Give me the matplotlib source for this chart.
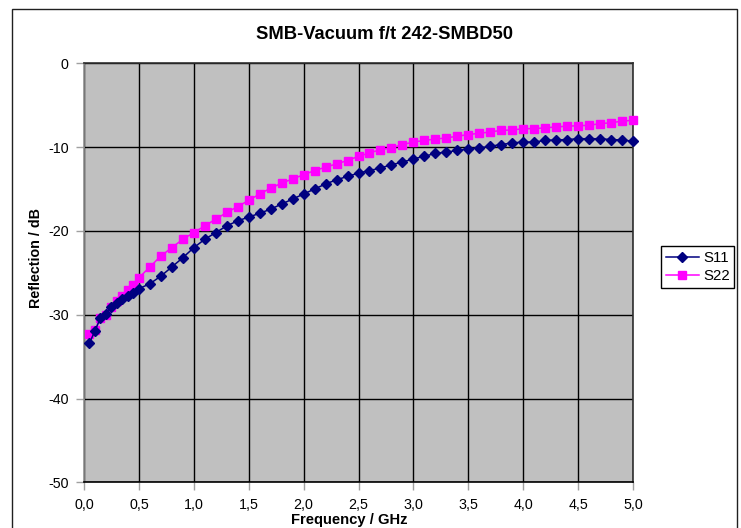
import matplotlib
matplotlib.use("Agg")
import matplotlib.pyplot as plt
from matplotlib.patches import Rectangle

plt.rcParams['font.family'] = ['Liberation Sans', 'DejaVu Sans']
plt.rcParams['axes.unicode_minus'] = False

freq = [0.05, 0.10, 0.15, 0.20, 0.25, 0.30, 0.35, 0.40, 0.45, 0.50,
        0.6, 0.7, 0.8, 0.9, 1.0, 1.1, 1.2, 1.3, 1.4, 1.5,
        1.6, 1.7, 1.8, 1.9, 2.0, 2.1, 2.2, 2.3, 2.4, 2.5,
        2.6, 2.7, 2.8, 2.9, 3.0, 3.1, 3.2, 3.3, 3.4, 3.5,
        3.6, 3.7, 3.8, 3.9, 4.0, 4.1, 4.2, 4.3, 4.4, 4.5,
        4.6, 4.7, 4.8, 4.9, 5.0]

s11 = [-33.4, -31.9, -30.4, -29.9, -29.1, -28.6, -28.1, -27.8, -27.4, -26.9,
       -26.3, -25.4, -24.3, -23.2, -22.0, -21.0, -20.2, -19.4, -18.8, -18.35,
       -17.9, -17.4, -16.8, -16.2, -15.6, -15.0, -14.4, -13.9, -13.5, -13.1,
       -12.8, -12.5, -12.1, -11.8, -11.4, -11.1, -10.75, -10.6, -10.4, -10.2,
       -10.1, -9.9, -9.7, -9.5, -9.4, -9.4, -9.2, -9.15, -9.1, -9.0,
       -9.0, -9.0, -9.1, -9.15, -9.3]

s22 = [-32.3, -31.8, -30.4, -30.0, -29.1, -28.4, -27.8, -27.1, -26.4, -25.6,
       -24.3, -23.0, -22.0, -21.0, -20.2, -19.4, -18.6, -17.8, -17.1, -16.35,
       -15.6, -14.9, -14.3, -13.8, -13.3, -12.8, -12.4, -12.0, -11.6, -11.1,
       -10.7, -10.3, -10.1, -9.7, -9.4, -9.2, -9.05, -8.9, -8.7, -8.5,
       -8.35, -8.2, -8.0, -7.96, -7.8, -7.8, -7.7, -7.6, -7.5, -7.45,
       -7.4, -7.2, -7.1, -6.9, -6.8]

xticks = [0.0, 0.5, 1.0, 1.5, 2.0, 2.5, 3.0, 3.5, 4.0, 4.5, 5.0]
xtick_labels = ['0,0', '0,5', '1,0', '1,5', '2,0', '2,5', '3,0', '3,5', '4,0', '4,5', '5,0']
yticks = [0, -10, -20, -30, -40, -50]
ytick_labels = ['0', '-10', '-20', '-30', '-40', '-50']

W, H = 741, 528
fig = plt.figure(figsize=(W / 100, H / 100), dpi=100)
fig.patch.set_facecolor('white')

# chart area border
fig.patches.append(Rectangle((11.5 / W, -0.05), (737 - 11.5) / W, 1.05 - 8.5 / H,
                             transform=fig.transFigure, fill=False,
                             edgecolor='#202020', linewidth=1.0))

left, right, top, bottom = 84, 633, 63.3, 482.3
ax = fig.add_axes([left / W, 1 - bottom / H, (right - left) / W, (bottom - top) / H])
ax.set_facecolor('#C0C0C0')

ax.set_xlim(0, 5.0)
ax.set_ylim(-50, 0)
ax.set_xticks(xticks)
ax.set_xticklabels(xtick_labels)
ax.set_yticks(yticks)
ax.set_yticklabels(ytick_labels)
ax.tick_params(axis='both', direction='out', length=6, width=1, color='#A0A0A0',
               labelsize=10.3, pad=5)
ax.grid(True, color='black', linewidth=1.0)
ax.set_axisbelow(True)

for side in ['top', 'right']:
    ax.spines[side].set_color('#303030')
    ax.spines[side].set_linewidth(1.2)
ax.spines['left'].set_color('#909090')
ax.spines['left'].set_linewidth(1.2)
ax.spines['bottom'].set_color('black')
ax.spines['bottom'].set_linewidth(1.2)

l1, = ax.plot(freq, s11, color='#000080', marker='D', markersize=4.8, linewidth=1.1,
              label='S11', clip_on=False, zorder=4)
l2, = ax.plot(freq, s22, color='#FF00FF', marker='s', markersize=5.6, linewidth=1.1,
              label='S22', clip_on=False, zorder=3)

fig.text(385 / W, 1 - 34.5 / H, 'SMB-Vacuum f/t 242-SMBD50', ha='center', va='center',
         fontsize=13.2, fontweight='bold')
fig.text(349 / W, 1 - 520 / H, 'Frequency / GHz', ha='center', va='center',
         fontsize=10.6, fontweight='bold')
fig.text(36.5 / W, 1 - 258 / H, 'Reflection / dB', ha='center', va='center',
         rotation=90, fontsize=10.3, fontweight='bold')

leg = fig.legend(handles=[l1, l2], loc='center left',
                 bbox_to_anchor=(661 / W, 1 - 267 / H), fontsize=10.8,
                 fancybox=False, framealpha=1, edgecolor='black',
                 handlelength=2.2, handletextpad=0.3, borderpad=0.3,
                 labelspacing=0.3, borderaxespad=0)
leg.get_frame().set_linewidth(1.0)

fig.savefig('out.png', dpi=100)
